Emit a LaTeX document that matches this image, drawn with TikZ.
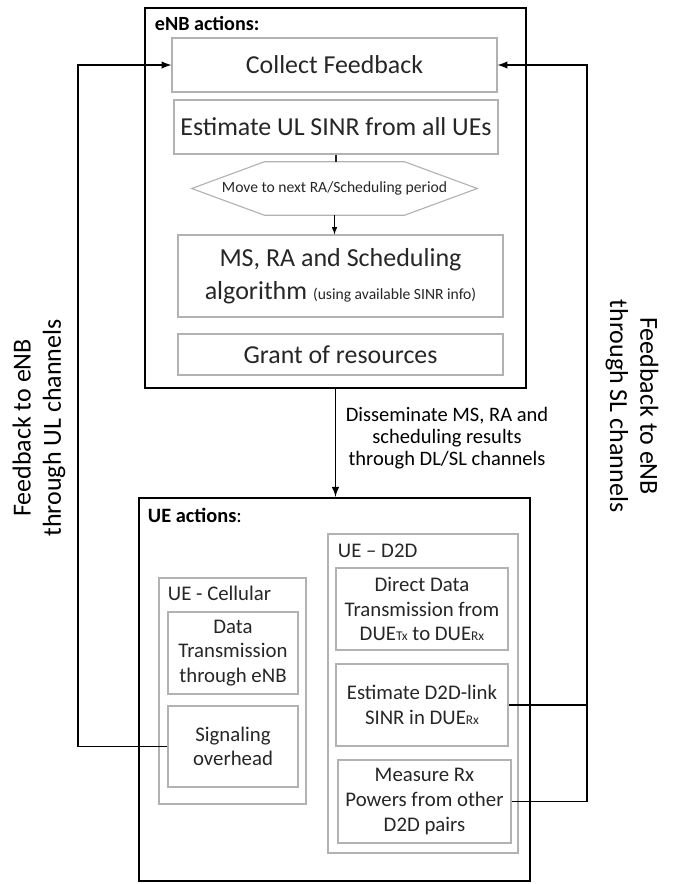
\documentclass[tikz,border=0pt]{standalone}
\usepackage{fontspec}
\setmainfont{Carlito}
\usetikzlibrary{calc}

\newcommand{\lowtag}[1]{{\fontsize{9.5}{9.5}\selectfont #1}}

\begin{document}
\begin{tikzpicture}[
  thin box/.style={rectangle, draw=black!30, line width=0.8pt, align=center, text=black!85, inner sep=2pt},
  thick box/.style={rectangle, draw=black, line width=1.7pt},
  feed/.style={draw=black, line width=1.4pt},
  ue text/.style={font=\fontsize{14.8}{17.5}\selectfont},
  ]
\useasboundingbox (0,0) rectangle (16.975,-22.1);

% eNB part
\node [thick box, minimum width=9.525cm, minimum height=9.5cm] (ENB) at (8.3875,-4.95) {};
\node [anchor=base west, font=\fontsize{14.3}{16}\selectfont\bfseries] (ENBt) at (3.75,-0.75) {eNB actions:};
\node [thin box, minimum width=8.125cm, minimum height=1.35cm, font=\fontsize{18.4}{20}\selectfont] (CF) at (8.3625,-1.625) {Collect Feedback};
\node [thin box, minimum width=8.1cm, minimum height=1.35cm, font=\fontsize{18.4}{20}\selectfont] (UL) at (8.4,-3.175) {Estimate UL SINR from all UEs};
\node [inner sep=0pt, minimum width=7.125cm, minimum height=1.325cm, text=black!85, font=\fontsize{11.1}{13}\selectfont] (MV) at (8.3625,-4.7125) {Move to next RA/Scheduling period};
\node [thin box, minimum width=8.125cm, minimum height=2.05cm, font=\fontsize{18.5}{23.5}\selectfont] (MS) at (8.5125,-6.9) {MS, RA and Scheduling\\algorithm {\fontsize{11.1}{13}\selectfont (using available SINR info)}};
\node [thin box, minimum width=8.125cm, minimum height=1.025cm, font=\fontsize{18.4}{20}\selectfont] (GR) at (8.5125,-8.8625) {Grant of resources};

\draw [black!30, line width=0.8pt] (MV.west) -- ($(MV.north west)!0.255!(MV.north east)$) -- ($(MV.north west)!0.745!(MV.north east)$) -- (MV.east) -- ($(MV.south west)!0.745!(MV.south east)$) -- ($(MV.south west)!0.255!(MV.south east)$) -- cycle;
\draw [black!85, line width=0.8pt] (UL.south) -- (UL.south |- MV.north);
\draw [-latex, black, line width=0.8pt] (MV.south) -- (MV.south |- MS.north);

% dissemination
\node [align=center, font=\fontsize{14.6}{15.5}\selectfont] (DIS) at (11.175,-10.95) {Disseminate MS, RA and\\scheduling results\\through DL/SL channels};

% UE part
\node [thick box, minimum width=9.775cm, minimum height=9.575cm] (UE) at (8.3625,-17.2375) {};
\node [anchor=base west, font=\fontsize{14.5}{16}\selectfont] (UEt) at (3.575,-13.05) {\textbf{UE actions}:};

\node [thin box, minimum width=3.675cm, minimum height=5.65cm] (CELL) at (5.8125,-17.275) {};
\node [anchor=base west, ue text, text=black!85] (CELLt) at (4.075,-15.0) {UE - Cellular};
\node [thin box, ue text, minimum width=3.25cm, minimum height=2.05cm] (DATA) at (5.825,-16.325) {Data\\Transmission\\through eNB};
\node [thin box, ue text, minimum width=3.25cm, minimum height=2.025cm] (SIG) at (5.825,-18.6625) {Signaling\\overhead};

\node [thin box, minimum width=4.75cm, minimum height=7.975cm] (D2D) at (10.575,-17.3375) {};
\node [anchor=base west, ue text, text=black!85] (D2Dt) at (8.325,-13.925) {UE – D2D};
\node [thin box, ue text, minimum width=4.3cm, minimum height=2.05cm] (DIR) at (10.55,-15.225) {Direct Data\\Transmission from\\DUE\lowtag{Tx} to DUE\lowtag{Rx}};
\node [thin box, ue text, minimum width=4.3cm, minimum height=2.05cm] (EST) at (10.55,-17.625) {Estimate D2D-link\\SINR in DUE\lowtag{Rx}};
\node [thin box, ue text, minimum width=4.325cm, minimum height=2.075cm] (MEAS) at (10.6125,-20.0375) {Measure Rx\\Powers from other\\D2D pairs};

\draw [-latex, feed] (ENB.south) -- (ENB.south |- UE.north);

% feedback loops
\coordinate (ulx) at (1.95,0);
\coordinate (slx) at (14.675,0);
\draw [-latex, feed] (SIG.west) -- (SIG.west -| ulx) -- (CF.west -| ulx) -- (CF.west);
\draw [feed] (EST.east) -- (EST.east -| slx);
\draw [-latex, feed] (MEAS.east) -- (MEAS.east -| slx) -- (CF.east -| slx) -- (CF.east);

\node [rotate=90, align=center, font=\fontsize{18.5}{21.5}\selectfont] (FUL) at (0.975,-10.7) {Feedback to eNB\\through UL channels};
\node [rotate=-90, align=center, font=\fontsize{18.5}{21.5}\selectfont] (FSL) at (15.8,-10.15) {Feedback to eNB\\through SL channels};

\end{tikzpicture}
\end{document}
